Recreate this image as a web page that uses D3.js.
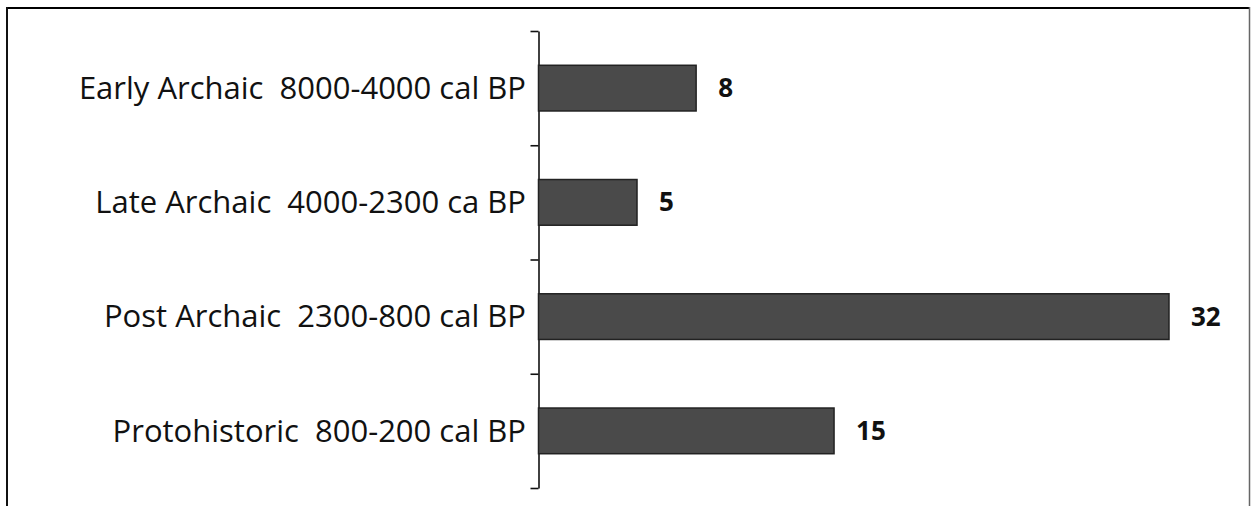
<!DOCTYPE html>
<html>
<head>
<meta charset="utf-8">
<script src="https://cdn.jsdelivr.net/npm/d3@7"></script>
<style>
  body { margin: 0; background: #fff; }
  svg { display: block; }
</style>
</head>
<body>
<div id="chart"></div>
<script>
const periods = [
  "Early Archaic  8000-4000 cal BP",
  "Late Archaic  4000-2300 ca BP",
  "Post Archaic  2300-800 cal BP",
  "Protohistoric  800-200 cal BP"
];
const counts = [8, 5, 32, 15];

const width = 1251;
const height = 506;

const svg = d3.select("#chart")
  .append("svg")
  .attr("width", width)
  .attr("height", height);

// frame round the picture (bottom edge is cut off)
svg.append("line").attr("x1", 6).attr("x2", 1250).attr("y1", 8).attr("y2", 8)
  .attr("stroke", "#000").attr("stroke-width", 2);
svg.append("line").attr("x1", 7).attr("x2", 7).attr("y1", 7).attr("y2", height)
  .attr("stroke", "#111").attr("stroke-width", 2);
svg.append("line").attr("x1", 1249.5).attr("x2", 1249.5).attr("y1", 7).attr("y2", height)
  .attr("stroke", "#666").attr("stroke-width", 1.5);

const axisX = 538.5;
const plotTop = 31, plotBottom = 488;

const xScale = d3.scaleLinear().domain([0, 32]).range([axisX, 1169]);
const yScale = d3.scaleBand()
  .domain(periods)
  .range([plotTop, plotBottom])
  .paddingInner(0.6)
  .paddingOuter(0.3);

// boundary ticks between categories
const yEdges = d3.scaleLinear().domain([0, periods.length]).range([plotTop, plotBottom]);
const axis = svg.append("g")
  .attr("transform", `translate(${axisX}, 0)`)
  .call(d3.axisLeft(yEdges).ticks(periods.length).tickFormat("").tickSize(8).tickSizeOuter(0));
axis.select(".domain").attr("stroke", "#111").attr("stroke-width", 1.6);
axis.selectAll(".tick line").attr("stroke", "#111").attr("stroke-width", 1.6);

// bars
svg.append("g")
  .selectAll("rect")
  .data(periods)
  .join("rect")
  .attr("x", xScale(0))
  .attr("y", (d) => yScale(d))
  .attr("width", (d, i) => xScale(counts[i]) - xScale(0))
  .attr("height", yScale.bandwidth())
  .attr("fill", "#4a4a4a")
  .attr("stroke", "#222")
  .attr("stroke-width", 1.5);

// category labels
svg.append("g")
  .selectAll("text")
  .data(periods)
  .join("text")
  .attr("x", 526)
  .attr("y", (d) => yScale(d) + yScale.bandwidth() / 2)
  .attr("dy", "0.35em")
  .attr("text-anchor", "end")
  .style("white-space", "pre")
  .attr("font-family", "'Open Sans', sans-serif")
  .attr("font-size", 31)
  .attr("fill", "#111")
  .text((d) => d);

// value labels
svg.append("g")
  .selectAll("text")
  .data(periods)
  .join("text")
  .attr("x", (d, i) => xScale(counts[i]) + 22)
  .attr("y", (d) => yScale(d) + yScale.bandwidth() / 2)
  .attr("dy", "0.35em")
  .attr("font-family", "'Open Sans', sans-serif")
  .attr("font-weight", "bold")
  .attr("font-size", 26)
  .attr("fill", "#111")
  .text((d, i) => counts[i]);
</script>
</body>
</html>
